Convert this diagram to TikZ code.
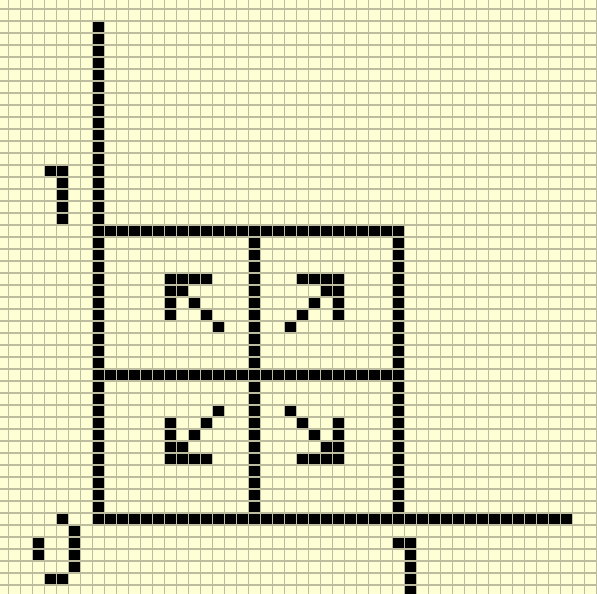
\documentclass[tikz,border=0pt]{standalone}
\usepackage{xcolor}
\usepackage{tikz}

\definecolor{paper}{RGB}{255,255,213}
\definecolor{gridline}{RGB}{190,188,158}

\begin{document}
\begin{tikzpicture}[x=12pt, y=-12pt,
    ink/.style={fill=black},
    gridpen/.style={draw=gridline, line width=1.2pt}]

    % --- 方眼紙（背景）---
    \useasboundingbox (-0.69,-0.75) rectangle (49.06,48.75);
    \clip (-0.69,-0.75) rectangle (49.06,48.75);
    \fill[paper] (-0.69,-0.75) rectangle (49.06,48.75);

    % --- 座標軸 ---
    % 縦軸
    \fill[ink] (7,1) rectangle (8,43);
    % 横軸
    \fill[ink] (7,42) rectangle (47,43);

    % --- 単位正方形（2x2 の区画）---
    \fill[ink] (7,18) rectangle (33,19);
    \fill[ink] (32,18) rectangle (33,43);
    \fill[ink] (20,18) rectangle (21,43);
    \fill[ink] (7,30) rectangle (33,31);

    % --- 矢印 ---
    % 左上
    \foreach \c/\r in {13/22, 14/22, 15/22, 16/22, 13/23, 14/23,
                       13/24, 15/24, 13/25, 16/25, 17/26}
        \fill[ink] (\c,\r) rectangle ++(1,1);
    % 右上
    \foreach \c/\r in {24/22, 25/22, 26/22, 27/22, 26/23, 27/23,
                       25/24, 27/24, 24/25, 27/25, 23/26}
        \fill[ink] (\c,\r) rectangle ++(1,1);
    % 左下
    \foreach \c/\r in {17/33, 13/34, 16/34, 13/35, 15/35, 13/36,
                       14/36, 13/37, 14/37, 15/37, 16/37}
        \fill[ink] (\c,\r) rectangle ++(1,1);
    % 右下
    \foreach \c/\r in {23/33, 24/34, 27/34, 25/35, 27/35, 26/36,
                       27/36, 24/37, 25/37, 26/37, 27/37}
        \fill[ink] (\c,\r) rectangle ++(1,1);

    % --- 目盛りの数字 ---
    % 縦軸の 1
    \foreach \c/\r in {3/13, 4/13, 4/14, 4/15, 4/16, 4/17}
        \fill[ink] (\c,\r) rectangle ++(1,1);
    % 原点の 0
    \foreach \c/\r in {4/42, 5/43, 5/44, 5/45, 5/46, 2/44, 2/45, 3/47, 4/47}
        \fill[ink] (\c,\r) rectangle ++(1,1);
    % 横軸の 1
    \foreach \c/\r in {32/44, 33/44, 33/45, 33/46, 33/47, 33/48}
        \fill[ink] (\c,\r) rectangle ++(1,1);

    % --- 方眼の線（最前面）---
    \draw[gridpen, step=12pt] (-0.69,-0.75) grid (49.06,48.75);

\end{tikzpicture}
\end{document}
